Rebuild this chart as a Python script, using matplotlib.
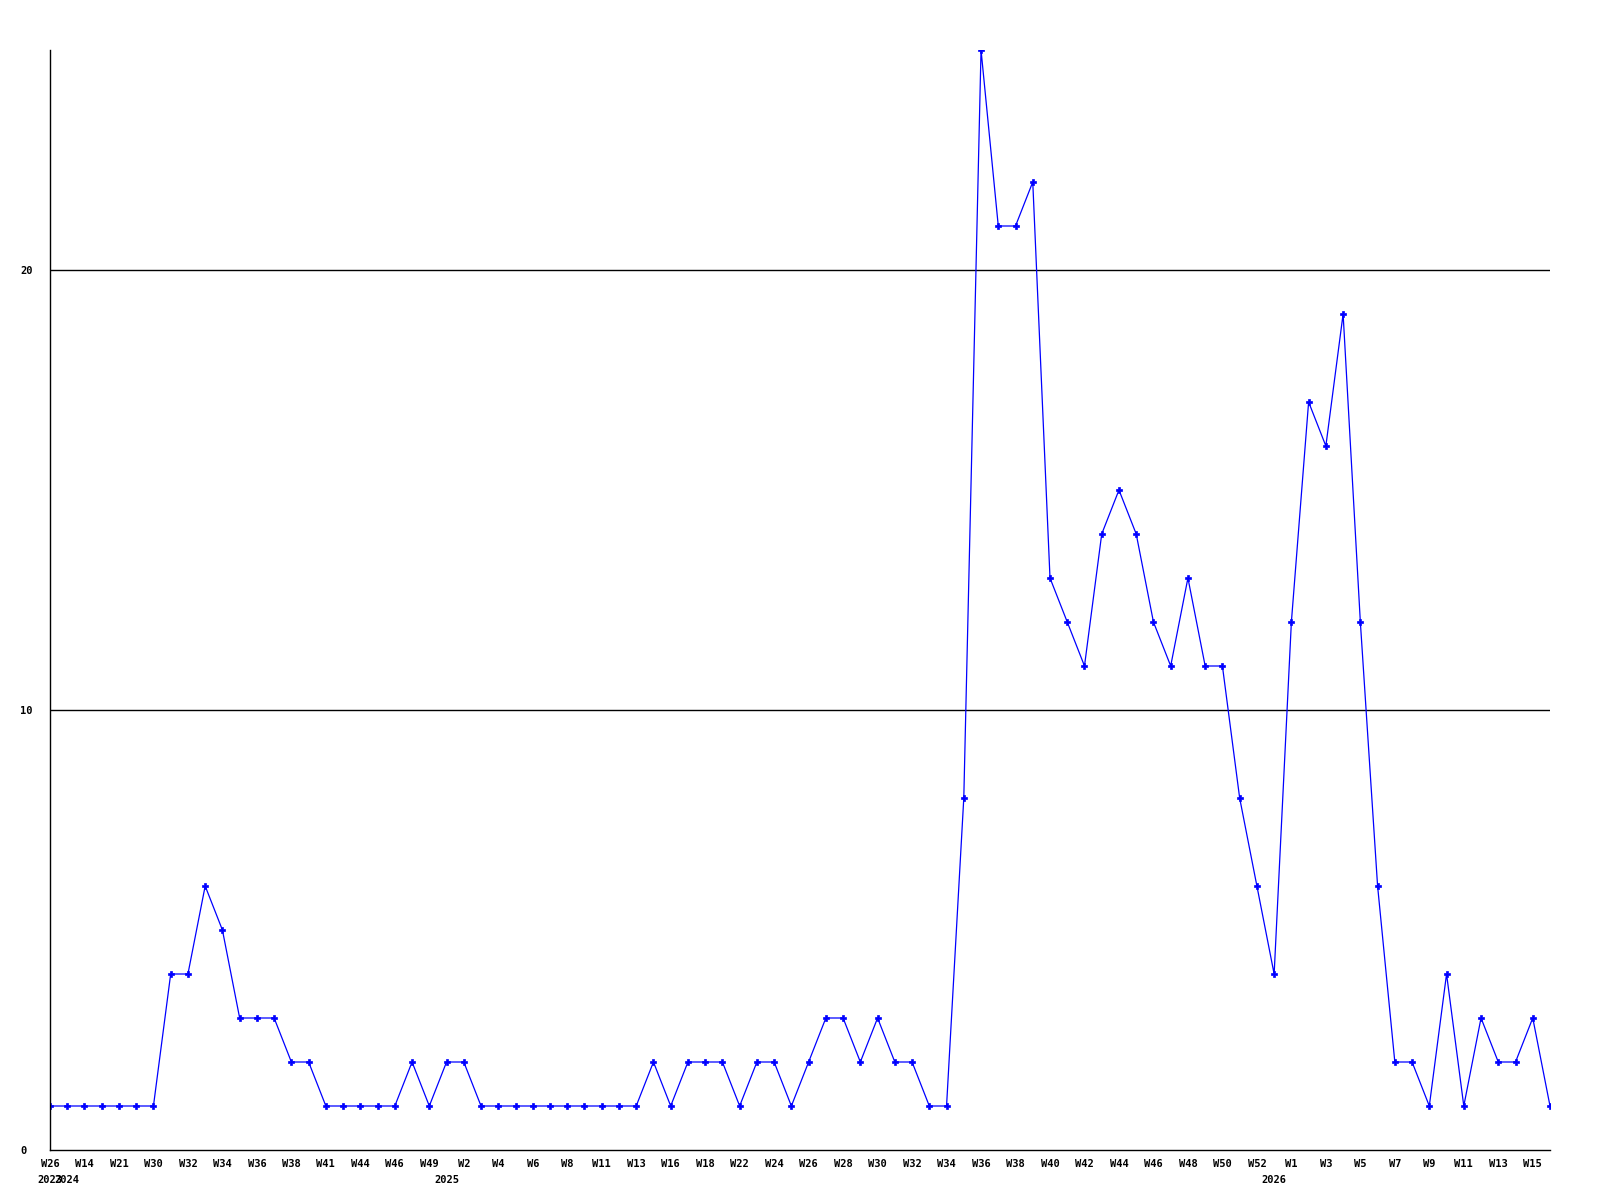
import matplotlib
matplotlib.use("Agg")
import matplotlib.pyplot as plt

# weekly counts, one point per reported week
values = [1, 1, 1, 1, 1, 1, 1, 4, 4, 6,
          5, 3, 3, 3, 2, 2, 1, 1, 1, 1,
          1, 2, 1, 2, 2, 1, 1, 1, 1, 1,
          1, 1, 1, 1, 1, 2, 1, 2, 2, 2,
          1, 2, 2, 1, 2, 3, 3, 2, 3, 2,
          2, 1, 1, 8, 25, 21, 21, 22, 13, 12,
          11, 14, 15, 14, 12, 11, 13, 11, 11, 8,
          6, 4, 12, 17, 16, 19, 12, 6, 2, 2,
          1, 4, 1, 3, 2, 2, 3, 1]

# labels shown on every second point
week_labels = ["W26", "W14", "W21", "W30", "W32", "W34", "W36", "W38", "W41", "W44",
               "W46", "W49", "W2", "W4", "W6", "W8", "W11", "W13", "W16", "W18",
               "W22", "W24", "W26", "W28", "W30", "W32", "W34", "W36", "W38", "W40",
               "W42", "W44", "W46", "W48", "W50", "W52", "W1", "W3", "W5", "W7",
               "W9", "W11", "W13", "W15"]

# index of the first point of each year
year_index = [0, 1, 23, 71]
year_names = ["2023", "2024", "2025", "2026"]

x = list(range(len(values)))

fig = plt.figure(figsize=(16, 12), dpi=100)
ax = fig.add_axes([50 / 1600, 50 / 1200, 1500 / 1600, 1100 / 1200])

ax.plot(x, values, color="#0000ff", linewidth=0.9, marker="P", markersize=4,
        markeredgewidth=0.5)

ax.set_xlim(0, len(values) - 1)
ax.set_ylim(0, 25)

for yv in (10, 20):
    ax.axhline(yv, color="black", linewidth=1.0, zorder=0)

for side in ("top", "right"):
    ax.spines[side].set_visible(False)
for side in ("left", "bottom"):
    ax.spines[side].set_linewidth(1.0)
    ax.spines[side].set_color("black")

font = dict(family="DejaVu Sans Mono", weight="bold", size=7.5)

ax.set_yticks([0, 10, 20])
ax.set_yticklabels(["0", "10", "20"], **font)
for lab in ax.get_yticklabels():
    lab.set_horizontalalignment("left")
ax.tick_params(axis="y", length=0, pad=21.6)

ax.set_xticks(x[::2])
ax.set_xticklabels(week_labels, **font)
ax.tick_params(axis="x", length=0, pad=6.5)

for idx, name in zip(year_index, year_names):
    ax.annotate(name, xy=(idx, 0), xycoords=("data", "axes fraction"),
                xytext=(0, -21.5), textcoords="offset points",
                ha="center", va="center", **font)

fig.savefig("out.png", dpi=100, facecolor="white")
